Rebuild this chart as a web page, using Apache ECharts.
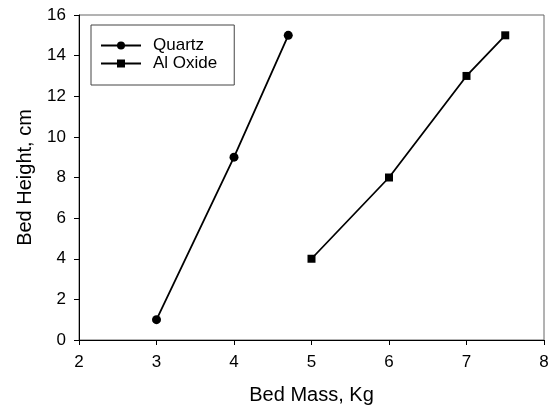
<!DOCTYPE html>
<html>
<head>
<meta charset="utf-8">
<script src="https://cdn.jsdelivr.net/npm/echarts@6/dist/echarts.min.js"></script>
<style>
  html, body { margin: 0; padding: 0; background: #fff; }
  #chart { width: 553px; height: 410px; }
</style>
</head>
<body>
<div id="chart"></div>
<script>
// data
var quartzMass = [3, 4, 4.7];
var quartzHeight = [1, 9, 15];
var oxideMass = [5, 6, 7, 7.5];
var oxideHeight = [4, 8, 13, 15];

function pairs(xs, ys) {
  return xs.map(function (x, i) { return [x, ys[i]]; });
}

var chart = echarts.init(document.getElementById('chart'));
var font = 'Arial, "Liberation Sans", sans-serif';

chart.setOption({
  animation: false,
  backgroundColor: '#fff',
  grid: {
    left: 79, right: 9, top: 15, bottom: 70,
    show: true, borderColor: '#666', borderWidth: 1
  },
  legend: {
    left: 91, top: 25,
    orient: 'vertical',
    itemWidth: 40, itemHeight: 10, itemGap: 1,
    padding: [12, 17, 13, 9],
    borderColor: '#444', borderWidth: 1,
    textStyle: { fontFamily: font, fontSize: 17, color: '#000', padding: [0, 0, 0, 7] },
    data: ['Quartz', 'Al Oxide']
  },
  xAxis: {
    type: 'value', min: 2, max: 8, interval: 1,
    name: 'Bed Mass, Kg', nameLocation: 'middle', nameGap: 45,
    nameTextStyle: { fontFamily: font, fontSize: 20, color: '#000' },
    axisLine: { lineStyle: { color: '#000' } },
    axisTick: { show: true, length: 5, lineStyle: { color: '#000' } },
    axisLabel: { fontFamily: font, fontSize: 17, color: '#000', margin: 14 },
    splitLine: { show: false }
  },
  yAxis: {
    type: 'value', min: 0, max: 16, interval: 2,
    name: 'Bed Height, cm', nameLocation: 'middle', nameGap: 44,
    nameTextStyle: { fontFamily: font, fontSize: 20, color: '#000' },
    axisLine: { show: true, lineStyle: { color: '#000' } },
    axisTick: { show: true, length: 5, lineStyle: { color: '#000' } },
    axisLabel: { fontFamily: font, fontSize: 17, color: '#000', margin: 13 },
    splitLine: { show: false }
  },
  series: [
    {
      name: 'Quartz', type: 'line',
      data: pairs(quartzMass, quartzHeight),
      symbol: 'circle', symbolSize: 9,
      lineStyle: { color: '#000', width: 1.8 },
      itemStyle: { color: '#000' }
    },
    {
      name: 'Al Oxide', type: 'line',
      data: pairs(oxideMass, oxideHeight),
      symbol: 'rect', symbolSize: 8,
      lineStyle: { color: '#000', width: 1.8 },
      itemStyle: { color: '#000' }
    }
  ]
});
</script>
</body>
</html>
